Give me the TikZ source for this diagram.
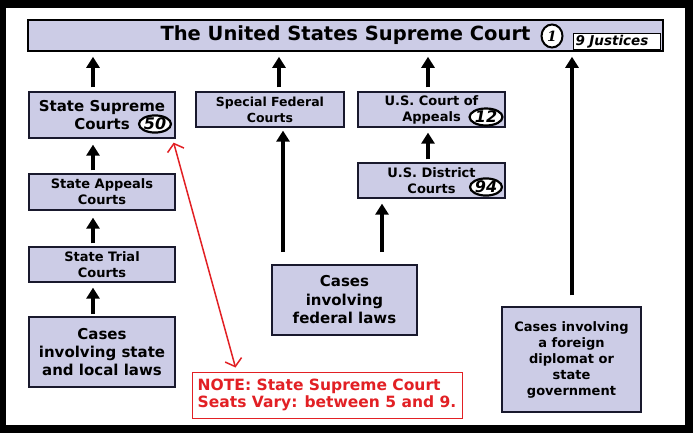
\documentclass[tikz,border=0pt]{standalone}
\usepackage{fontspec}
\setmainfont{DejaVu Sans}
\newfontfamily\serifbi{DejaVu Serif}
\usetikzlibrary{arrows.meta,shapes.geometric,calc}
\definecolor{boxfill}{RGB}{204,204,230}
\definecolor{boxline}{RGB}{25,25,45}
\definecolor{notered}{RGB}{226,32,36}
\begin{document}
\begin{tikzpicture}[x=1pt,y=-1pt,
  court/.style={draw=boxline, fill=boxfill, line width=1.3pt, align=center, inner sep=0pt},
  up/.style={line width=4pt, -{Triangle[width=13pt,length=11pt]}},
  badge/.style={ellipse, draw=black, fill=white, line width=2.2pt, inner sep=0pt,
    font=\bfseries\itshape\fontsize{16}{16}\selectfont},
]
\useasboundingbox (0,0) rectangle (693,433);
\fill[black] (0,0) rectangle (693,433);
\fill[white] (6,8) rectangle (685,425);

% title
\node[court, draw=black, line width=1.6pt, minimum width=635pt, minimum height=31pt,
  font=\bfseries\fontsize{19.5}{22}\selectfont] (title) at (345.5,35.5) {The United States Supreme Court};
\node[ellipse, draw=black, fill=white, line width=2pt, minimum width=21pt, minimum height=23pt, inner sep=0pt,
  font=\serifbi\bfseries\itshape\fontsize{14}{14}\selectfont] (one) at (552,36) {1};
\node[draw=black, fill=white, line width=1pt, text width=83pt, inner xsep=2pt, inner ysep=0pt,
  minimum height=16pt, align=left, anchor=west,
  font=\bfseries\itshape\fontsize{13.5}{14}\selectfont] (just) at (573,42) {9 Justices};

% left column
\node[court, minimum width=146pt, minimum height=46pt, font=\bfseries\fontsize{15}{18}\selectfont]
  (ssc) at (102,115) {State Supreme\\Courts};
\node[badge, minimum width=32pt, minimum height=16pt] (b50) at (155,124) {50};
\node[court, minimum width=146pt, minimum height=36pt, font=\bfseries\fontsize{13}{16}\selectfont]
  (sac) at (102,192) {State Appeals\\Courts};
\node[court, minimum width=146pt, minimum height=35pt, font=\bfseries\fontsize{13}{16}\selectfont]
  (stc) at (102,264.5) {State Trial\\Courts};
\node[court, line width=2pt, minimum width=146pt, minimum height=70pt, font=\bfseries\fontsize{15}{18}\selectfont]
  (scase) at (102,352) {Cases\\involving state\\and local laws};

% federal
\node[court, minimum width=148pt, minimum height=35pt, font=\bfseries\fontsize{12.5}{16}\selectfont]
  (sfc) at (270,109.5) {Special Federal\\Courts};
\node[court, minimum width=147pt, minimum height=35pt, font=\bfseries\fontsize{13}{16}\selectfont]
  (app) at (431.5,109.5) {U.S. Court of\\Appeals};
\node[badge, minimum width=33pt, minimum height=17pt] (b12) at (486,117) {12};
\node[court, minimum width=147pt, minimum height=35pt, font=\bfseries\fontsize{13}{16}\selectfont]
  (dist) at (431.5,180.5) {U.S. District\\Courts};
\node[badge, minimum width=32pt, minimum height=17pt] (b94) at (486,187) {94};
\node[court, line width=1.6pt, minimum width=145pt, minimum height=70pt, font=\bfseries\fontsize{15}{18.5}\selectfont]
  (fcase) at (344.5,300) {Cases\\involving\\federal laws};

% diplomat
\node[court, minimum width=139pt, minimum height=105pt, font=\bfseries\fontsize{13}{16}\selectfont]
  (dcase) at (571.5,359.5) {Cases involving\\a foreign\\diplomat or\\state\\government};

% note
\node[draw=notered, line width=1pt, minimum width=270pt, minimum height=46pt, inner sep=0pt,
  align=left, text=notered, font=\bfseries\fontsize{15.5}{17}\selectfont]
  (note) at (327,395) {NOTE: State Supreme Court\\Seats Vary: between 5 and 9.};

% arrows to the Supreme Court
\draw[up] ($(ssc.north)+(-9pt,4pt)$) -- ($(ssc.north |- title.south)+(-9pt,-5pt)$);
\draw[up] ($(sfc.north)+(9pt,4pt)$) -- ($(sfc.north |- title.south)+(9pt,-5pt)$);
\draw[up] ($(app.north)+(-3.5pt,4pt)$) -- ($(app.north |- title.south)+(-3.5pt,-5pt)$);
\draw[up] ($(dcase.north)+(0.5pt,11pt)$) -- ($(dcase.north |- title.south)+(0.5pt,-5pt)$);

% state chain
\draw[up] ($(sac.north)+(-9pt,3pt)$) -- ($(ssc.south)+(-9pt,-6pt)$);
\draw[up] ($(stc.north)+(-9pt,3pt)$) -- ($(sac.south)+(-9pt,-7pt)$);
\draw[up] ($(scase.north)+(-9pt,2pt)$) -- ($(stc.south)+(-9pt,-5pt)$);

% federal chain
\draw[up] ($(fcase.north)+(-61.5pt,12pt)$) -- ($(sfc.south)+(13pt,-3pt)$);
\draw[up] ($(fcase.north)+(37.5pt,12pt)$) -- ($(dist.south -| fcase.north)+(37.5pt,-5pt)$);
\draw[up] ($(dist.north)+(-3.5pt,3pt)$) -- ($(app.south)+(-3.5pt,-5pt)$);

% red note arrow
\draw[notered, line width=1.5pt, {Straight Barb[length=7pt,width=17pt]}-{Straight Barb[length=7pt,width=17pt]}]
  ($(ssc.south east)+(-2pt,-4pt)$) -- ($(note.north west)+(44pt,4pt)$);
\end{tikzpicture}
\end{document}
